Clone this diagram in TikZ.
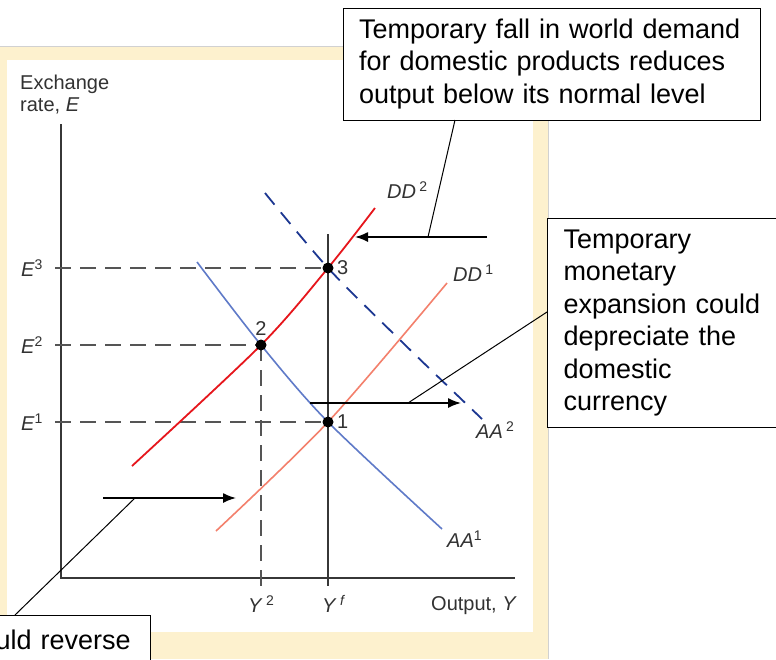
\documentclass[tikz,border=0pt]{standalone}
\usepackage{fontspec}
\setmainfont{Liberation Sans}
\usetikzlibrary{arrows.meta}
\definecolor{cream}{RGB}{253,241,206}
\definecolor{axisgray}{RGB}{55,55,55}
\definecolor{labelgray}{RGB}{50,50,50}
\definecolor{dashgray}{RGB}{85,85,85}
\definecolor{ddred}{RGB}{230,22,28}
\definecolor{ddsalmon}{RGB}{243,128,108}
\definecolor{aablue}{RGB}{95,122,200}
\definecolor{aadark}{RGB}{28,55,145}
\tikzset{
  axisline/.style={draw=axisgray, line width=1.8pt},
  guide/.style={draw=dashgray, line width=1.2pt, dash pattern=on 16pt off 9pt},
  glabel/.style={text=labelgray, font=\fontsize{20}{21.5}\selectfont, inner sep=0pt},
  eqdot/.style={circle, fill=black, minimum size=11pt, inner sep=0pt},
  callbox/.style={draw=black, line width=1pt, fill=white, font=\fontsize{27}{32.5}\selectfont, align=left, inner xsep=16pt},
  callarrow/.style={draw=black, line width=1.6pt, -{Latex[length=13pt,width=10pt]}},
  leader/.style={draw=black, line width=1pt}
}
\begin{document}
\begin{tikzpicture}[x=1pt,y=-1pt]
\useasboundingbox (0,0) rectangle (776,659);
\clip (0,0) rectangle (776,659);
\fill[white] (0,0) rectangle (776,659);
% panel
\fill[cream] (0,47) rectangle (548,659);
\draw[black!18, line width=0.8pt] (0,46.5) -- (548,46.5) -- (548,659);
\fill[white] (7,60) rectangle (533,632);

% axes
\draw[axisline] (61,124) -- (61,578) -- (515,578);
\node[glabel, anchor=north west, align=left] (ylab) at (20,75) {Exchange\\rate, \textit{E}};
\node[glabel, anchor=west] (xlab) at (431,606) {Output, \textit{Y}};

% full-employment line
\draw[draw=axisgray, line width=1.2pt] (328,234) -- (328,586);

% guides
\draw[guide] (55,268) -- (328,268);
\draw[guide] (55,345) -- (261,345);
\draw[guide] (55,422) -- (328,422);
\draw[guide] (261,345) -- (261,586);

\node[glabel, anchor=west] (e3) at (21,268) {\textit{E}\textsuperscript{3}};
\node[glabel, anchor=west] (e2) at (21,345) {\textit{E}\textsuperscript{2}};
\node[glabel, anchor=west] (e1) at (21,422) {\textit{E}\textsuperscript{1}};
\node[glabel, anchor=west] (y2) at (248,604) {\textit{Y}\,\textsuperscript{2}};
\node[glabel, anchor=west] (yf) at (322,604) {\textit{Y}\,\textsuperscript{\textit{f}}};

% curves
\draw[aablue, line width=1.6pt] plot[smooth] coordinates {(197,262) (261,345) (328,422) (442,529)};
\draw[aadark, line width=1.8pt, dash pattern=on 15pt off 10pt] plot[smooth] coordinates {(265,193) (328,268) (400,340) (482,419)};
\draw[ddsalmon, line width=1.6pt] plot[smooth] coordinates {(216,531) (328,422) (447,283)};
\draw[ddred, line width=1.8pt] plot[smooth] coordinates {(132,466) (261,345) (328,268) (375,208)};

\node[glabel, anchor=west] (aa1) at (447,539) {\textit{AA}\textsuperscript{1}};
\node[glabel, anchor=west] (aa2) at (476,430) {\textit{AA}\,\textsuperscript{2}};
\node[glabel, anchor=west] (dd1) at (453,273) {\textit{DD}\,\textsuperscript{1}};
\node[glabel, anchor=west] (dd2) at (387,190) {\textit{DD}\,\textsuperscript{2}};

% equilibria
\node[eqdot] (p3) at (328,268) {};
\node[eqdot] (p2) at (261,345) {};
\node[eqdot] (p1) at (328,422) {};
\node[glabel, anchor=west] (n3) at (337,268) {3};
\node[glabel, anchor=south] (n2) at (261,336) {2};
\node[glabel, anchor=west] (n1) at (337,422) {1};

% callout boxes
\node[callbox, anchor=center, minimum width=417pt, minimum height=112pt, text width=385pt, inner ysep=0pt] (box1) at (551.5,64)
  {Temporary fall in world demand\\for domestic products reduces\\output below its normal level};
\node[callbox, anchor=north west, minimum width=243pt, minimum height=209pt, text width=211pt, inner ysep=0pt] (box2) at (547,218)
  {Temporary\\monetary\\expansion could\\depreciate the\\domestic\\currency};
\node[callbox, anchor=north west, text width=139pt, inner ysep=14pt] (box3) at (-21,615)
  {uld reverse};

% arrows and leaders
\coordinate (a1s) at (487,237);
\coordinate (a1e) at (355,237);
\coordinate (a1l) at (428,237);
\coordinate (b1l) at (455,120);
\draw[callarrow] (a1s) -- (a1e);
\draw[leader] (a1l) -- (b1l);

\coordinate (a2s) at (310,403);
\coordinate (a2e) at (461,403);
\coordinate (a2l) at (408,403);
\coordinate (b2l) at (547,312);
\draw[callarrow] (a2s) -- (a2e);
\draw[leader] (a2l) -- (b2l);

\coordinate (a3s) at (103,498);
\coordinate (a3e) at (236,498);
\coordinate (a3l) at (135,498);
\coordinate (b3l) at (15,615);
\draw[callarrow] (a3s) -- (a3e);
\draw[leader] (a3l) -- (b3l);
\end{tikzpicture}
\end{document}
